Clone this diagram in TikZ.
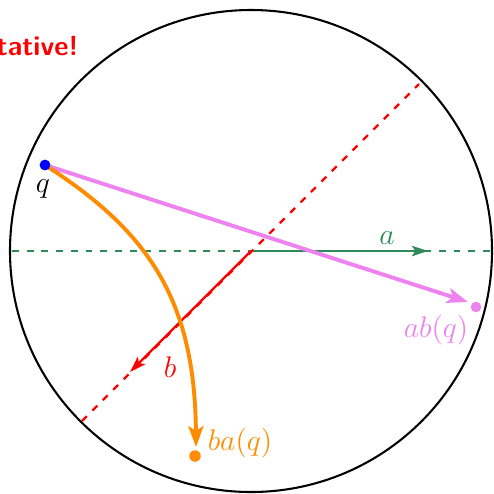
\documentclass[tikz,border=0pt]{standalone}
\usetikzlibrary{arrows.meta}
\definecolor{pinkv}{RGB}{238,130,238}
\definecolor{dorange}{RGB}{255,140,0}
\definecolor{sgreen}{RGB}{46,139,87}
\newcommand{\lbltext}[1]{\scalebox{1.08}{\large #1}}
\begin{document}
\begin{tikzpicture}[x=0.4348pt,y=-0.4348pt,
  lbl/.style={inner sep=0pt},
  dot/.style={circle, fill, inner sep=0pt, minimum size=4.6pt},
  axisdash/.style={line width=1pt, dash pattern=on 3pt off 3.4pt},
  bigtip/.style={-{Stealth[length=9pt,width=6.5pt,inset=2pt]}},
  smalltip/.style={-{Stealth[length=7pt,width=4.5pt,inset=1.5pt]}}]
\useasboundingbox (0,0) rectangle (494,493);
\clip (0,0) rectangle (494,493);
\coordinate (O) at (251,251);
\node[font=\large\bfseries\sffamily, text=red, anchor=base east, inner sep=0pt] (title) at (79,55) {Not commutative!};
\draw[line width=0.9pt] (O) circle[radius=241];
% green axis a
\coordinate (gL) at (12,251);
\coordinate (gR) at (492,251);
\draw[sgreen, axisdash] (gL) -- (gR);
\coordinate (aT) at (428,251);
\draw[sgreen, line width=1pt, smalltip] (O) -- (aT);
\node[lbl, text=sgreen] (a) at (387,238) {\lbltext{$a$}};
% red axis b
\coordinate (rT) at (419,84);
\coordinate (rB) at (82,421);
\draw[red, axisdash] (rB) -- (rT);
\coordinate (bT) at (130,372);
\draw[red, line width=1pt, smalltip] (O) -- (bT);
\node[lbl, text=red] (b) at (170,367) {\lbltext{$b$}};
% point q
\node[dot, fill=blue] (q) at (45,165) {};
\node[lbl] (ql) at (43,189) {\lbltext{$q$}};
% ab(q)
\coordinate (abT) at (468,302);
\draw[pinkv, line width=1.7pt, bigtip] (q.center) -- (abT);
\node[dot, fill=pinkv] (abq) at (476,307) {};
\node[lbl, text=pinkv] (abl) at (436,330) {\lbltext{$ab(q)$}};
% ba(q)
\coordinate (baT) at (196,447);
\draw[dorange, line width=1.7pt, bigtip] (q.center) .. controls (146,230) and (195,297) .. (baT);
\node[dot, fill=dorange, minimum size=5pt] (baq) at (195,456) {};
\node[lbl, text=dorange] (bal) at (240,443) {\lbltext{$ba(q)$}};
\node[dot, fill=blue] at (q) {};
\end{tikzpicture}
\end{document}
